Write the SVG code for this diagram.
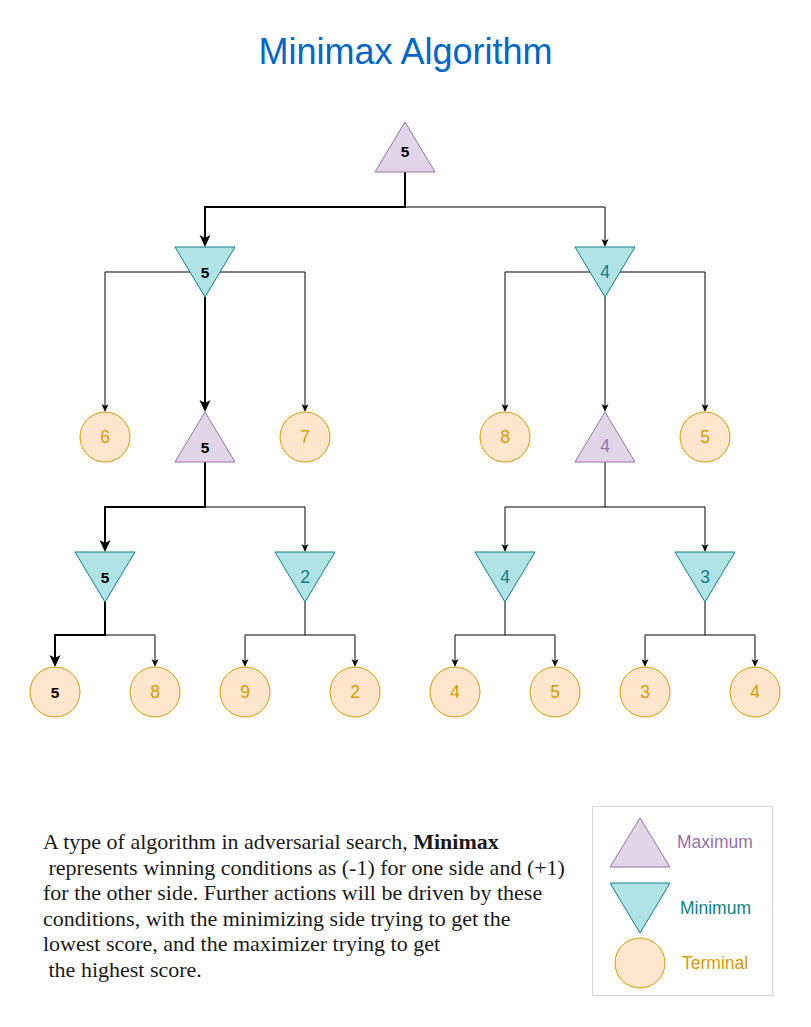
<svg xmlns="http://www.w3.org/2000/svg" width="811" height="1027" viewBox="0 0 811 1027">
<style>
.max{fill:#e1d5e7;stroke:#9673a6;stroke-width:1}
.min{fill:#b0e3e6;stroke:#0e8088;stroke-width:1}
.term{fill:#ffe6cc;stroke:#d79b00;stroke-width:1}
.lbl{font-family:"Liberation Sans",Arial,sans-serif;font-size:17.5px;text-anchor:middle;dominant-baseline:central}
.lb{font-weight:bold;fill:#000;font-size:15.5px}
.lmax{fill:#9673a6}
.lmin{fill:#0e8088}
.lterm{fill:#d79b00}
.e{fill:none;stroke:#000;stroke-width:1;marker-end:url(#a1)}
.ek{fill:none;stroke:#000;stroke-width:2;marker-end:url(#a2)}
.leg{font-family:"Liberation Sans",Arial,sans-serif;font-size:17.5px;dominant-baseline:central}
.desc{font-family:"Liberation Serif","Times New Roman",serif;font-size:22px;fill:#1a1a1a}
</style>
<defs>
<marker id="a1" markerUnits="userSpaceOnUse" viewBox="-5 -5 12 10" refX="0" refY="0" markerWidth="12" markerHeight="10" orient="auto" overflow="visible">
<path d="M5,0 L-3,-3.5 L-1,0 L-3,3.5 Z" fill="#000"/>
</marker>
<marker id="a2" markerUnits="userSpaceOnUse" viewBox="-8 -7 16 14" refX="0" refY="0" markerWidth="16" markerHeight="14" orient="auto" overflow="visible">
<path d="M6,0 L-6,-5.5 L-3,0 L-6,5.5 Z" fill="#000"/>
</marker>
</defs>
<rect width="811" height="1027" fill="#fff"/>
<text x="405.5" y="64" font-family="'Liberation Sans',Arial,sans-serif" font-size="36" fill="#0066cc" text-anchor="middle">Minimax Algorithm</text>

<g id="connectors">
<path class="ek" d="M405,172 V207 H205 V241"/>
<path class="e" d="M405,172 V207 H605 V242"/>
<path class="e" d="M190,272 H105 V407"/>
<path class="ek" d="M205,297 V406"/>
<path class="e" d="M220,272 H305 V407"/>
<path class="e" d="M590,272 H505 V407"/>
<path class="e" d="M605,297 V407"/>
<path class="e" d="M620,272 H705 V407"/>
<path class="ek" d="M205,462 V507 H105 V546"/>
<path class="e" d="M205,507 H305 V547"/>
<path class="e" d="M605,462 V507 H505 V547"/>
<path class="e" d="M605,507 H705 V547"/>
<path class="ek" d="M105,602 V635 H55 V661"/>
<path class="e" d="M105,635 H155 V662"/>
<path class="e" d="M305,602 V635 H245 V662"/>
<path class="e" d="M305,635 H355 V662"/>
<path class="e" d="M505,602 V635 H455 V662"/>
<path class="e" d="M505,635 H555 V662"/>
<path class="e" d="M705,602 V635 H645 V662"/>
<path class="e" d="M705,635 H755 V662"/>
</g>

<g id="root"><path class="max" d="M405,122 L435,172 L375,172 Z"/><text class="lbl lb" x="405" y="151">5</text></g>
<g id="minL"><path class="min" d="M175,247 L235,247 L205,297 Z"/><text class="lbl lb" x="205" y="272">5</text></g>
<g id="minR"><path class="min" d="M575,247 L635,247 L605,297 Z"/><text class="lbl lmin" x="605" y="272">4</text></g>

<g id="t6"><circle class="term" cx="105" cy="437" r="25"/><text class="lbl lterm" x="105" y="437">6</text></g>
<g id="maxL"><path class="max" d="M205,412 L235,462 L175,462 Z"/><text class="lbl lb" x="205" y="447">5</text></g>
<g id="t7"><circle class="term" cx="305" cy="437" r="25"/><text class="lbl lterm" x="305" y="437">7</text></g>
<g id="t8"><circle class="term" cx="505" cy="437" r="25"/><text class="lbl lterm" x="505" y="437">8</text></g>
<g id="maxR"><path class="max" d="M605,412 L635,462 L575,462 Z"/><text class="lbl lmax" x="605" y="446">4</text></g>
<g id="t5"><circle class="term" cx="705" cy="437" r="25"/><text class="lbl lterm" x="705" y="437">5</text></g>

<g id="min1"><path class="min" d="M75,552 L135,552 L105,602 Z"/><text class="lbl lb" x="105" y="577">5</text></g>
<g id="min2"><path class="min" d="M275,552 L335,552 L305,602 Z"/><text class="lbl lmin" x="305" y="577">2</text></g>
<g id="min3"><path class="min" d="M475,552 L535,552 L505,602 Z"/><text class="lbl lmin" x="505" y="577">4</text></g>
<g id="min4"><path class="min" d="M675,552 L735,552 L705,602 Z"/><text class="lbl lmin" x="705" y="577">3</text></g>

<g id="l1"><circle class="term" cx="55" cy="692" r="25"/><text class="lbl lb" x="55" y="692">5</text></g>
<g id="l2"><circle class="term" cx="155" cy="692" r="25"/><text class="lbl lterm" x="155" y="692">8</text></g>
<g id="l3"><circle class="term" cx="245" cy="692" r="25"/><text class="lbl lterm" x="245" y="692">9</text></g>
<g id="l4"><circle class="term" cx="355" cy="692" r="25"/><text class="lbl lterm" x="355" y="692">2</text></g>
<g id="l5"><circle class="term" cx="455" cy="692" r="25"/><text class="lbl lterm" x="455" y="692">4</text></g>
<g id="l6"><circle class="term" cx="555" cy="692" r="25"/><text class="lbl lterm" x="555" y="692">5</text></g>
<g id="l7"><circle class="term" cx="645" cy="692" r="25"/><text class="lbl lterm" x="645" y="692">3</text></g>
<g id="l8"><circle class="term" cx="755" cy="692" r="25"/><text class="lbl lterm" x="755" y="692">4</text></g>

<g id="description">
<text class="desc" xml:space="preserve"><tspan x="43" y="849">A type of algorithm in adversarial search, <tspan font-weight="bold">Minimax</tspan></tspan><tspan x="43" y="874.5"> represents winning conditions as (-1) for one side and (+1)</tspan><tspan x="43" y="900">for the other side. Further actions will be driven by these</tspan><tspan x="43" y="925.5">conditions, with the minimizing side trying to get the</tspan><tspan x="43" y="951">lowest score, and the maximizer trying to get</tspan><tspan x="43" y="976.5"> the highest score.</tspan></text>
</g>

<g id="legend">
<rect x="592.5" y="806.5" width="180" height="189" fill="#fff" stroke="#d5d5d5"/>
<path class="max" d="M640,818 L670,867 L610,867 Z"/>
<path class="min" d="M610,883 L670,883 L640,933 Z"/>
<circle class="term" cx="640" cy="963" r="25"/>
<text class="leg lmax" x="677" y="842">Maximum</text>
<text class="leg lmin" x="680" y="908">Minimum</text>
<text class="leg lterm" x="682" y="963">Terminal</text>
</g>
</svg>
